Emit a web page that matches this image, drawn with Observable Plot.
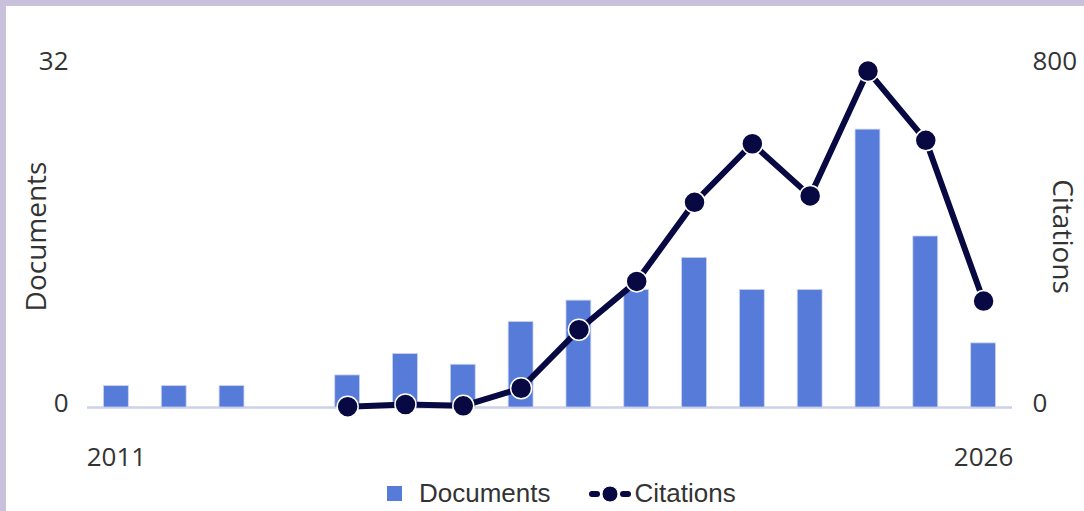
<!DOCTYPE html>
<html>
<head>
<meta charset="utf-8">
<script src="https://cdn.jsdelivr.net/npm/d3@7"></script>
<script src="https://cdn.jsdelivr.net/npm/@observablehq/plot@0.6"></script>
<style>
  html, body { margin: 0; padding: 0; background: #fff; }
  #frame {
    position: relative;
    width: 1078px; height: 505px;
    border-top: 6px solid #c9c1dc;
    border-left: 6px solid #c9c1dc;
    background: #fff;
    overflow: hidden;
  }
  #chart svg { display: block; }
  #legend {
    position: absolute; left: 381px; top: 472px;
    display: flex; align-items: center;
    font-family: "Liberation Sans", Arial, sans-serif;
    font-size: 26px; color: #333;
  }
  .sw { width: 15px; height: 15px; background: #577bd9; margin-right: 17px; }
</style>
</head>
<body>
<div id="frame">
  <div id="chart"></div>
  <div id="legend">
    <div class="sw"></div><span>Documents</span>
    <svg width="44" height="18" style="margin-left:37px;margin-right:3px" viewBox="0 0 44 18">
      <line x1="4" y1="9" x2="9" y2="9" stroke="#080842" stroke-width="6" stroke-linecap="round"/>
      <line x1="35" y1="9" x2="40" y2="9" stroke="#080842" stroke-width="6" stroke-linecap="round"/>
      <circle cx="22" cy="9" r="8" fill="#080842" stroke="#fff" stroke-width="1"/>
    </svg><span>Citations</span>
  </div>
</div>
<script>
const years = [2011, 2012, 2013, 2014, 2015, 2016, 2017, 2018, 2019, 2020, 2021, 2022, 2023, 2024, 2025, 2026];
const documents = [2, 2, 2, 0, 3, 5, 4, 8, 10, 11, 14, 11, 11, 26, 16, 6];
const citationYears = [2015, 2016, 2017, 2018, 2019, 2020, 2021, 2022, 2023, 2024, 2025, 2026];
const citations = [2, 7, 4, 45, 182, 295, 480, 617, 495, 787, 625, 249];
const docTicks = [0, 32];
const citTicks = [0, 800];
const xTickLabels = [2011, 2026];

const ratio = citTicks[1] / docTicks[1];
const docData = years.map((y, i) => ({year: y, docs: documents[i]}));
const citData = citationYears.map((y, i) => ({year: y, cit: citations[i]}));

const font = '"Open Sans", sans-serif';
const fs = 26;
const chart = Plot.plot({
  width: 1078,
  height: 464,
  marginLeft: 81,
  marginRight: 72,
  marginTop: 59,
  marginBottom: 63,
  style: {fontFamily: font, fontSize: fs + "px", color: "#333", background: "#fff", overflow: "visible"},
  x: {type: "band", domain: years, paddingInner: 0.57, paddingOuter: 0.285, round: false},
  y: {domain: docTicks},
  marks: [
    Plot.ruleY([0], {stroke: "#cdd1ea", strokeWidth: 2.5}),
    Plot.barY(docData, {x: "year", y: "docs", fill: "#577bd9", stroke: "#c9d3f2", strokeWidth: 0.8}),
    Plot.line(citData, {x: "year", y: d => d.cit / ratio, stroke: "#080842", strokeWidth: 6}),
    Plot.dot(citData, {x: "year", y: d => d.cit / ratio, r: 10.5, fill: "#080842", stroke: "#fff", strokeWidth: 1.5}),
    Plot.axisX(xTickLabels, {tickSize: 0, tickPadding: 40, label: null, tickFormat: d => String(d), fontSize: fs, fill: "#333"}),
    Plot.axisY(docTicks, {anchor: "left", tickSize: 0, tickPadding: 19, dy: -3.5, label: null, fontSize: fs, fill: "#333"}),
    Plot.axisY(citTicks.map(c => c / ratio), {anchor: "right", tickSize: 0, tickPadding: 20, dy: -3.5, label: null, tickFormat: d => String(d * ratio), fontSize: fs, fill: "#333"}),
    Plot.text(["Documents"], {frameAnchor: "left", textAnchor: "middle", rotate: -90, dx: -50, fontSize: 28, fill: "#333"}),
    Plot.text(["Citations"], {frameAnchor: "right", textAnchor: "middle", rotate: 90, dx: 49, fontSize: 28, fill: "#333"})
  ]
});
document.getElementById("chart").appendChild(chart);
</script>
</body>
</html>
